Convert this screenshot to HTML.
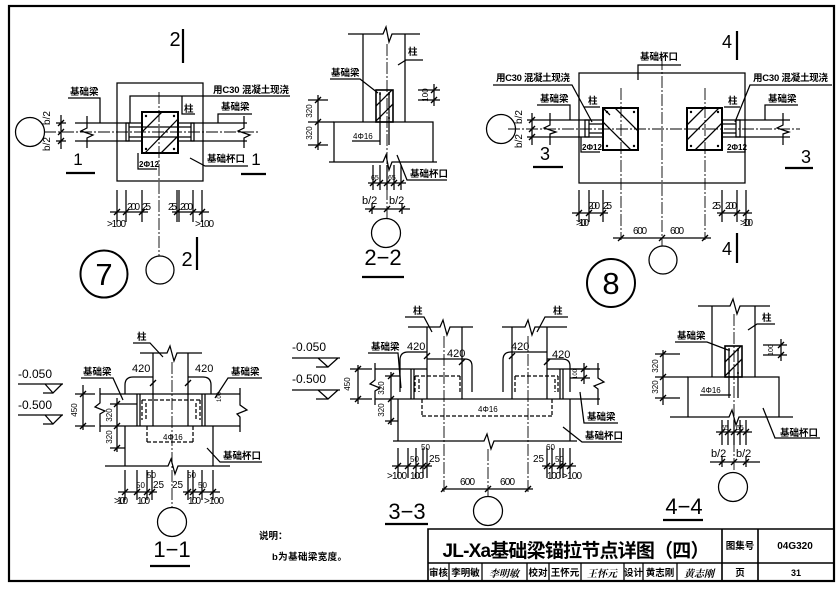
<!DOCTYPE html>
<html><head><meta charset="utf-8"><style>
html,body{margin:0;padding:0;background:#fff}
svg{display:block}
text{font-family:"Liberation Sans","Noto Sans CJK SC",sans-serif;fill:#000;stroke:none}
.c{font-size:9.5px;font-weight:bold}
.d{font-size:10px}
.m{font-size:8px}
.e{font-size:12px}
.k{font-size:11px}
.sg{font-size:10px;font-style:italic;font-weight:bold;font-family:"Noto Serif CJK SC","Noto Sans CJK SC",serif}
</style></head><body>
<svg width="840" height="589" viewBox="0 0 840 589" xmlns="http://www.w3.org/2000/svg">
<rect width="840" height="589" fill="#fff"/>
<g fill="none" stroke="#000" stroke-width="1.25">
<!-- frame -->
<rect x="9" y="6" width="825" height="575" stroke-width="2.2"/>

<!-- ===== Detail 7 ===== -->
<path stroke-width="0.9" stroke-dasharray="12 2 2 2" d="M44 132H258M159 92V256"/>
<rect x="117" y="83" width="86" height="98"/>
<rect x="142" y="112" width="36" height="41" stroke-width="2"/>
<path d="M142 132L162 112M145 153L178 119M161 153L178 136"/>
<path d="M75 123H142M75 141H142M178 123H247M178 141H247"/>
<path d="M87 116V128L81 131L93 135L87 138V148M244 116V128L238 131L250 135L244 138V148"/>
<rect x="126" y="123" width="3" height="18"/><rect x="191" y="123" width="3" height="18"/>
<path d="M129 127H191M129 137H191"/>
<path d="M130 123V96H290M182 96V114H195M100 123V98H68M218 123V114H252M190 158L205 166H248M138 153V169H157"/>
<path d="M61 115V149M56 123H66M56 141H66"/>
<path stroke-width="1.4" d="M58 126l6-6M58 135l6-6M58 144l6-6"/>
<circle cx="30" cy="132" r="14.5"/>
<circle cx="160" cy="270" r="14"/>
<circle cx="104" cy="274" r="23.5" stroke-width="2"/>
<path stroke-width="2.2" d="M66 173H95M241 174H266M183 29V63M197 237V270"/>
<path d="M117 190V222M126 190V222M142 190V222M177 190V222M179 190V222M193 190V222M202 190V222M110 212H148M172 212H209"/>
<path stroke-width="1.4" d="M114 215l6-6M123 215l6-6M139 215l6-6M174 215l6-6M190 215l6-6M199 215l6-6"/>

<!-- ===== Detail 2-2 ===== -->
<path d="M363 34V122M405 34V122M348 34H383L386 27L389 42L392 34H420"/>
<path stroke-width="0.9" stroke-dasharray="12 2 2 2" d="M387 44V218"/>
<rect x="376" y="90" width="17" height="32" stroke-width="1.6"/>
<path d="M376 106L392 90M376 121L393 104M380 92V145M389 92V145"/>
<path d="M334 162V122H433V162M329 162H383L386 155L389 170L392 162H437"/>
<path d="M318 95V150M308 100H328M308 122H334M308 145H328"/>
<path d="M418 90H440M418 100H440M434 84V106"/>
<path d="M373 165V190M380 165V190M387 165V190M394 165V190M401 165V190M368 183H406M365 209H410M372 203V214M402 203V214"/>
<path stroke-width="1.4" d="M315 103l6-6M315 125l6-6M315 148l6-6M431 93l6-6M431 103l6-6M369 212l6-6M384 212l6-6M399 212l6-6M370 186l6-6M377 186l6-6M384 186l6-6M391 186l6-6M398 186l6-6"/>
<path d="M398 65L406 60H423M330 79H360L378 93M352 141H380M397 155L407 180H447"/>
<circle cx="386" cy="233" r="14.5"/>
<path stroke-width="2.2" d="M362 277H404"/>

<!-- ===== Detail 8 ===== -->
<rect x="579" y="73" width="166" height="110"/>
<path stroke-width="0.9" stroke-dasharray="12 2 2 2" d="M662 58V246M508 129H800M621 88V240M705 88V240"/>
<rect x="603" y="108" width="35" height="42" stroke-width="2"/>
<rect x="687" y="108" width="35" height="42" stroke-width="2"/>
<path d="M603 122L631 150M615 108L638 131M603 108L610 115M687 140L719 108M695 150L722 123M687 125L704 108"/>
<path d="M543 120H603M543 137H603M722 120H790M722 137H790"/>
<path d="M550 113V125L544 128L556 132L550 134V145M783 113V125L777 128L789 132L783 134V145"/>
<rect x="585" y="120" width="4" height="17"/><rect x="736" y="120" width="4" height="17"/>
<path d="M589 124H603M589 133H603M722 124H736M722 133H736"/>
<path d="M638 80V65H681M493 85H572L592 122M832 85H750L735 122M537 105H570V120M798 105H765V120M584 107H600M724 107H740M581 137V152H600M745 137V152H727"/>
<path d="M532 113V145M527 120H543M527 137H543"/>
<path stroke-width="1.4" d="M529 123l6-6M529 132l6-6M529 140l6-6"/>
<circle cx="501" cy="129" r="14.5"/>
<circle cx="663" cy="260" r="14"/>
<circle cx="611" cy="283" r="24" stroke-width="2"/>
<path stroke-width="2.2" d="M533 167H563M785 168H813M737 31V60M737 233V263"/>
<path d="M579 190V222M589 190V222M603 190V222M722 190V222M737 190V222M746 190V222M572 213H608M717 213H752M613 238H711"/>
<path stroke-width="1.4" d="M576 216l6-6M586 216l6-6M600 216l6-6M719 216l6-6M734 216l6-6M743 216l6-6M618 241l6-6M659 241l6-6M702 241l6-6"/>

<!-- ===== Detail 1-1 ===== -->
<path d="M153 353V426M188 353V426M140 353H167L170 346L174 361L177 353H202"/>
<path stroke-width="0.9" stroke-dasharray="12 2 2 2" d="M172 362V508"/>
<path d="M125 394V385Q125 377 133 377H153M188 377H203Q211 377 211 385V394"/>
<path d="M100 394H240M100 426H240M100 388V403L95 407L105 411L100 414V432M240 388V405L247 410L237 414L240 417V432"/>
<path d="M137 394V426M140 394V426M202 394V426M205 394V426"/>
<path stroke-dasharray="4 2" d="M142 400H200M142 400V420M146 403V420M196 403V420M200 400V420M147 426V442M193 426V442M147 442H193"/>
<path d="M125 466V426M213 466V426M105 466H168L171 459L175 474L178 466H230"/>
<path d="M18 384H63M45 384L53 393L62 384M43 393H53M18 415H63M45 415L53 424L62 415M43 424H53"/>
<path d="M83 385V430M75 394H95M75 426H95M117 398V452M110 404H137M110 448H125"/>
<path stroke-width="1.4" d="M80 397l6-6M80 429l6-6M114 407l6-6M114 429l6-6M114 451l6-6M150 386l6-6M185 386l6-6"/>
<path d="M133 343H150L163 357M81 378H113L123 400M262 378H228L215 398M207 448L220 462H262"/>
<path d="M125 470V500M137 470V500M147 470V500M152 470V500M188 470V500M193 470V500M202 470V500M213 470V500M118 492H157M183 492H220"/>
<path stroke-width="1.4" d="M122 495l6-6M134 495l6-6M144 495l6-6M149 495l6-6M185 495l6-6M190 495l6-6M199 495l6-6M210 495l6-6"/>
<circle cx="172" cy="522" r="14.5"/>
<path stroke-width="2.2" d="M150 566H190"/>

<!-- ===== Detail 3-3 ===== -->
<path d="M427 327V399M462 327V399M512 327V399M547 327V399"/>
<path d="M408 327H440L443 320L447 335L450 327H473M502 327H525L528 320L532 335L535 327H567"/>
<path stroke-width="0.9" stroke-dasharray="12 2 2 2" d="M444 336V492M528 336V492M488 449V497"/>
<path d="M400 392V360Q400 352 408 352H427M427 359H465Q472 359 472 366V392M503 392V360Q503 352 511 352H547M547 359H562Q570 359 570 366V392"/>
<path d="M375 369H427M547 369H600M375 399H600M375 363V380L370 384L380 388L375 391V405M598 363V378L604 382L594 386L598 389V405"/>
<path d="M411 369V399M414 369V399M560 369V399M563 369V399"/>
<path stroke-dasharray="4 2" d="M415 376H460M415 376V392M419 379V392M460 376V392M515 376H558M515 376V392M555 379V392M558 376V392M422 399V416M552 399V416M422 416H552"/>
<path d="M398 441V399M570 441V399M393 441H484L487 434L491 449L494 441H577"/>
<path d="M292 358H340M318 358L328 367L338 358M316 367H328M292 390H340M318 390L328 399L338 390M316 399H328"/>
<path d="M358 365V404M350 369H372M350 399H372M391 372V425M385 376H400M385 421H398M570 369H590M570 378H590M584 363V384"/>
<path stroke-width="1.4" d="M355 372l6-6M355 402l6-6M388 379l6-6M388 402l6-6M388 424l6-6M424 359l6-6M459 365l6-6M509 359l6-6M544 365l6-6M581 372l6-6M581 381l6-6"/>
<path d="M405 317H424L432 332M568 317H545L537 332M368 353H398L401 388M618 423H584L580 392M622 442H582L563 427"/>
<path d="M398 448V478M408 448V478M416 448V478M423 448V478M427 448V478M547 448V478M552 448V478M560 448V478M563 448V478M570 448V478M392 466H432M542 466H576M442 489H533"/>
<path stroke-width="1.4" d="M395 469l6-6M405 469l6-6M413 469l6-6M420 469l6-6M424 469l6-6M544 469l6-6M549 469l6-6M557 469l6-6M560 469l6-6M567 469l6-6M441 492l6-6M485 492l6-6M525 492l6-6"/>
<circle cx="488" cy="511" r="14.5"/>
<path stroke-width="2.2" d="M385 524H428"/>

<!-- ===== Detail 4-4 ===== -->
<path d="M712 306V377M755 306V377M698 306H730L733 299L737 314L740 306H770"/>
<path stroke-width="0.9" stroke-dasharray="12 2 2 2" d="M734 314V472"/>
<rect x="725" y="346" width="17" height="31" stroke-width="1.6"/>
<path d="M725 362L741 346M725 376L742 359M729 348V398M738 348V398"/>
<path d="M688 417V377H779V417M670 417H729L732 410L736 425L739 417H793"/>
<path d="M663 350V405M655 354H680M655 377H688M655 398H680M763 345H787M763 355H787M781 339V361"/>
<path d="M722 420V445M728 420V445M734 420V445M740 420V445M746 420V445M716 432H752M710 462H760M722 456V467M746 456V467"/>
<path stroke-width="1.4" d="M660 357l6-6M660 380l6-6M660 401l6-6M778 348l6-6M778 358l6-6M719 435l6-6M725 435l6-6M731 435l6-6M737 435l6-6M743 435l6-6M719 465l6-6M731 465l6-6M743 465l6-6"/>
<path d="M748 330L757 324H775M675 342H707L728 350M700 395H731M763 408L775 438H820"/>
<circle cx="733" cy="487" r="14.5"/>
<path stroke-width="2.2" d="M663 520H703"/>

<!-- ===== Title block ===== -->
<path stroke-width="1.6" d="M428 581V529H834M428 563H834M722 529V581M758 529V581"/>
<path d="M449 563V581M482 563V581M527 563V581M549 563V581M581 563V581M624 563V581M643 563V581M677 563V581"/>
</g>
<!-- rebar dots -->
<g fill="#000">
<circle cx="146" cy="116" r="1.2"/><circle cx="174" cy="116" r="1.2"/><circle cx="146" cy="149" r="1.2"/><circle cx="174" cy="149" r="1.2"/>
<circle cx="607" cy="112" r="1.2"/><circle cx="634" cy="112" r="1.2"/><circle cx="607" cy="146" r="1.2"/><circle cx="634" cy="146" r="1.2"/>
<circle cx="691" cy="112" r="1.2"/><circle cx="718" cy="112" r="1.2"/><circle cx="691" cy="146" r="1.2"/><circle cx="718" cy="146" r="1.2"/>
<circle cx="380" cy="94" r="1"/><circle cx="389" cy="94" r="1"/><circle cx="380" cy="118" r="1"/><circle cx="389" cy="118" r="1"/>
<circle cx="729" cy="350" r="1"/><circle cx="738" cy="350" r="1"/><circle cx="729" cy="373" r="1"/><circle cx="738" cy="373" r="1"/>
</g>

<!-- ===== Texts ===== -->
<!-- D7 -->
<text class="c" x="70" y="95">基础梁</text>
<text class="c" x="213" y="93" textLength="76">用C30 混凝土现浇</text>
<text class="c" x="184" y="112">柱</text>
<text class="c" x="221" y="110">基础梁</text>
<text class="c" x="207" y="162">基础杯口</text>
<text class="m" x="139" y="167" font-weight="bold">2Φ12</text>
<text class="d" x="50" y="118" text-anchor="middle" transform="rotate(-90 50 118)">b/2</text>
<text class="d" x="50" y="144" text-anchor="middle" transform="rotate(-90 50 144)">b/2</text>
<text x="78" y="165" font-size="17" text-anchor="middle">1</text>
<text x="256" y="165" font-size="17" text-anchor="middle">1</text>
<text x="175" y="46" font-size="20" text-anchor="middle">2</text>
<text x="187" y="266" font-size="20" text-anchor="middle">2</text>
<text x="104" y="285" font-size="31" text-anchor="middle">7</text>
<text class="d" x="127" y="210" textLength="13">200</text>
<text class="d" x="142" y="210" textLength="9">25</text>
<text class="d" x="107" y="227" textLength="19">&gt;100</text>
<text class="d" x="168" y="210" textLength="9">25</text>
<text class="d" x="180" y="210" textLength="13">200</text>
<text class="d" x="195" y="227" textLength="19">&gt;100</text>

<!-- D2-2 -->
<text class="c" x="408" y="55">柱</text>
<text class="c" x="331" y="76">基础梁</text>
<text class="m" x="353" y="139">4Φ16</text>
<text class="c" x="410" y="177">基础杯口</text>
<text class="m" x="312" y="111" text-anchor="middle" transform="rotate(-90 312 111)">320</text>
<text class="m" x="312" y="133" text-anchor="middle" transform="rotate(-90 312 133)">320</text>
<text class="m" x="428" y="95" text-anchor="middle" transform="rotate(-90 428 95)">100</text>
<text x="371" y="180" font-size="7">65</text>
<text x="388" y="180" font-size="7">65</text>
<text class="k" x="362" y="204">b/2</text>
<text class="k" x="389" y="204">b/2</text>
<text x="383" y="265" font-size="22" text-anchor="middle">2−2</text>

<!-- D8 -->
<text class="c" x="640" y="60">基础杯口</text>
<text class="c" x="496" y="81" textLength="74">用C30 混凝土现浇</text>
<text class="c" x="753" y="81" textLength="75">用C30 混凝土现浇</text>
<text class="c" x="540" y="102">基础梁</text>
<text class="c" x="768" y="102">基础梁</text>
<text class="c" x="588" y="104">柱</text>
<text class="c" x="728" y="104">柱</text>
<text class="m" x="582" y="150" font-weight="bold">2Φ12</text>
<text class="m" x="727" y="150" font-weight="bold">2Φ12</text>
<text class="d" x="522" y="117" text-anchor="middle" transform="rotate(-90 522 117)">b/2</text>
<text class="d" x="522" y="141" text-anchor="middle" transform="rotate(-90 522 141)">b/2</text>
<text x="545" y="160" font-size="18" text-anchor="middle">3</text>
<text x="806" y="163" font-size="18" text-anchor="middle">3</text>
<text x="727" y="48" font-size="18" text-anchor="middle">4</text>
<text x="727" y="255" font-size="18" text-anchor="middle">4</text>
<text x="611" y="294" font-size="31" text-anchor="middle">8</text>
<text class="d" x="588" y="209" textLength="12">200</text>
<text class="d" x="603" y="209" textLength="9">25</text>
<text class="d" x="576" y="226" textLength="13">&gt;100</text>
<text class="d" x="712" y="209" textLength="9">25</text>
<text class="d" x="725" y="209" textLength="12">200</text>
<text class="d" x="740" y="226" textLength="13">&gt;100</text>
<text class="d" x="633" y="234" textLength="14">600</text>
<text class="d" x="670" y="234" textLength="14">600</text>

<!-- D1-1 -->
<text class="c" x="137" y="340">柱</text>
<text class="c" x="83" y="375">基础梁</text>
<text class="c" x="231" y="375">基础梁</text>
<text class="c" x="223" y="459">基础杯口</text>
<text class="k" x="132" y="372">420</text>
<text class="k" x="195" y="372">420</text>
<text class="e" x="18" y="378">-0.050</text>
<text class="e" x="18" y="409">-0.500</text>
<text class="m" x="77" y="410" text-anchor="middle" transform="rotate(-90 77 410)">450</text>
<text class="m" x="112" y="415" text-anchor="middle" transform="rotate(-90 112 415)">320</text>
<text class="m" x="112" y="437" text-anchor="middle" transform="rotate(-90 112 437)">320</text>
<text x="221" y="397" font-size="6" text-anchor="middle" transform="rotate(-90 221 397)">100</text>
<text class="m" x="163" y="440">4Φ16</text>
<text class="m" x="147" y="478">50</text>
<text class="m" x="136" y="488">50</text>
<text class="d" x="153" y="488">25</text>
<text class="m" x="187" y="478">50</text>
<text class="d" x="172" y="488">25</text>
<text class="m" x="198" y="488">50</text>
<text class="d" x="114" y="504" textLength="14">&gt;100</text>
<text class="d" x="137" y="504" textLength="13">100</text>
<text class="d" x="188" y="504" textLength="13">100</text>
<text class="d" x="204" y="504" textLength="20">&gt;100</text>
<text x="172" y="557" font-size="22" text-anchor="middle">1−1</text>

<!-- D3-3 -->
<text class="c" x="413" y="314">柱</text>
<text class="c" x="553" y="314">柱</text>
<text class="c" x="371" y="350">基础梁</text>
<text class="k" x="407" y="350">420</text>
<text class="k" x="447" y="357">420</text>
<text class="k" x="511" y="350">420</text>
<text class="k" x="552" y="358">420</text>
<text class="e" x="292" y="351">-0.050</text>
<text class="e" x="292" y="383">-0.500</text>
<text class="m" x="350" y="384" text-anchor="middle" transform="rotate(-90 350 384)">450</text>
<text class="m" x="384" y="388" text-anchor="middle" transform="rotate(-90 384 388)">320</text>
<text class="m" x="384" y="410" text-anchor="middle" transform="rotate(-90 384 410)">320</text>
<text x="577" y="374" font-size="6" text-anchor="middle" transform="rotate(-90 577 374)">100</text>
<text class="m" x="478" y="412">4Φ16</text>
<text class="c" x="587" y="420">基础梁</text>
<text class="c" x="585" y="439">基础杯口</text>
<text class="m" x="421" y="450">50</text>
<text class="m" x="410" y="462">50</text>
<text class="d" x="429" y="462">25</text>
<text class="d" x="387" y="479" textLength="20">&gt;100</text>
<text class="d" x="410" y="479" textLength="14">100</text>
<text class="m" x="546" y="450">60</text>
<text class="d" x="533" y="462">25</text>
<text class="m" x="555" y="462">50</text>
<text class="d" x="547" y="479" textLength="14">100</text>
<text class="d" x="562" y="479" textLength="20">&gt;100</text>
<text class="d" x="460" y="485" textLength="15">600</text>
<text class="d" x="500" y="485" textLength="15">600</text>
<text x="407" y="519" font-size="22" text-anchor="middle">3−3</text>

<!-- D4-4 -->
<text class="c" x="762" y="321">柱</text>
<text class="c" x="677" y="339">基础梁</text>
<text class="m" x="701" y="393">4Φ16</text>
<text class="c" x="780" y="436">基础杯口</text>
<text class="m" x="658" y="366" text-anchor="middle" transform="rotate(-90 658 366)">320</text>
<text class="m" x="658" y="387" text-anchor="middle" transform="rotate(-90 658 387)">320</text>
<text x="773" y="350" font-size="7" text-anchor="middle" transform="rotate(-90 773 350)">100</text>
<text x="721" y="430" font-size="7">65</text>
<text x="736" y="430" font-size="7">65</text>
<text class="k" x="711" y="457">b/2</text>
<text class="k" x="736" y="457">b/2</text>
<text x="684" y="514" font-size="22" text-anchor="middle">4−4</text>

<!-- notes -->
<text class="c" x="259" y="539">说明：</text>
<text class="c" x="272" y="560" textLength="75">b为基础梁宽度。</text>

<!-- title block -->
<text x="576" y="557" font-size="19" font-weight="bold" text-anchor="middle" textLength="267">JL-Xa基础梁锚拉节点详图（四）</text>
<text class="c" x="740" y="549" text-anchor="middle" font-size="10">图集号</text>
<text x="795" y="549" text-anchor="middle" font-size="10" font-weight="bold">04G320</text>
<text class="c" x="438.5" y="576" text-anchor="middle" font-size="9">审核</text>
<text class="c" x="465.5" y="576" text-anchor="middle" font-size="9">李明敏</text>
<text class="sg" x="504" y="577" text-anchor="middle">李明敏</text>
<text class="c" x="538" y="576" text-anchor="middle" font-size="9">校对</text>
<text class="c" x="565" y="576" text-anchor="middle" font-size="9">王怀元</text>
<text class="sg" x="602" y="577" text-anchor="middle">王怀元</text>
<text class="c" x="633.5" y="576" text-anchor="middle" font-size="9">设计</text>
<text class="c" x="660" y="576" text-anchor="middle" font-size="9">黄志刚</text>
<text class="sg" x="699" y="577" text-anchor="middle">黄志刚</text>
<text class="c" x="740" y="576" text-anchor="middle" font-size="9">页</text>
<text x="796" y="576" text-anchor="middle" font-size="9" font-weight="bold">31</text>
</svg>
</body></html>
